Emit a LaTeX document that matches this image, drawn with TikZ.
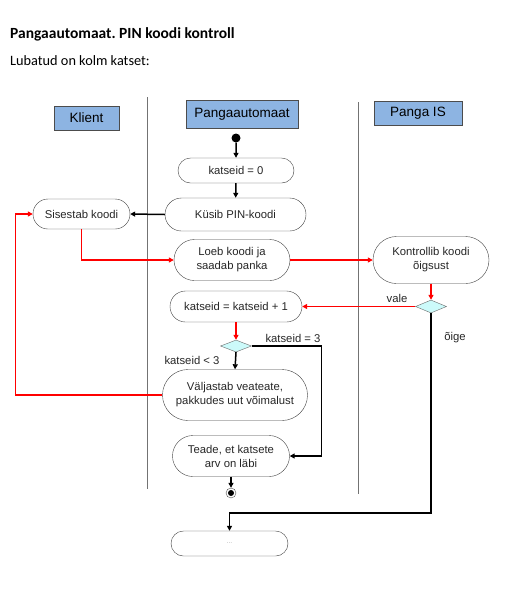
\documentclass[tikz,border=0pt]{standalone}
\usepackage{fontspec}
\setmainfont{Liberation Sans}
\newfontfamily\titlefont{Carlito}
\usetikzlibrary{shapes.misc,shapes.geometric,arrows.meta}

\definecolor{laneblue}{RGB}{141,180,226}
\definecolor{decfill}{RGB}{204,250,250}
\definecolor{flowred}{RGB}{255,0,0}

\tikzset{
  lanehead/.style={draw=black!70, fill=laneblue, inner sep=0pt, font=\fontsize{13.5}{15}\selectfont},
  activity/.style={draw=black!75, rounded rectangle, inner sep=0pt, align=center,
    text=black!85, font=\fontsize{11.3}{14}\selectfont},
  decision/.style={draw=black!60, fill=decfill, diamond, inner sep=0pt, aspect=2.4},
  blackflow/.style={draw=black, line width=1.5pt, -{Triangle[length=5pt,width=5pt]}},
  redflow/.style={draw=flowred, line width=1.5pt, -{Triangle[length=5pt,width=5pt]}},
  laneline/.style={draw=black!55, line width=0.6pt},
  guard/.style={inner sep=0pt, text=black!85, font=\fontsize{11.3}{14}\selectfont}
}

\begin{document}
\begin{tikzpicture}[x=1pt,y=-1pt]
\useasboundingbox (0,0) rectangle (527,590);

% heading text
\node[anchor=base west, inner sep=0pt, font=\titlefont\bfseries\fontsize{15.5}{18}\selectfont] (title) at (10,38) {Pangaautomaat.\ PIN koodi kontroll};
\node[anchor=base west, inner sep=0pt, font=\titlefont\fontsize{14.3}{16}\selectfont] (subtitle) at (10,65) {Lubatud on kolm katset:};

% swimlanes
\draw[laneline] (147.5,97) -- (147.5,489);
\draw[laneline] (358,102) -- (358,494);
\node[lanehead, minimum width=65pt, minimum height=24pt] (klient) at (86.5,118) {Klient};
\node[lanehead, minimum width=112pt, minimum height=28pt] (automaat) at (242,114) {Pangaautomaat};
\node[lanehead, minimum width=88pt, minimum height=24pt] (pangais) at (418,113) {Panga IS};

% activities
\node[circle, fill=black, inner sep=0pt, minimum size=9pt] (start) at (236,138) {};
\node[activity, minimum width=116pt, minimum height=25pt] (nulli) at (236,170.5) {katseid = 0};
\node[activity, minimum width=141pt, minimum height=33pt] (kysib) at (235.5,214.5) {Küsib PIN-koodi};
\node[activity, minimum width=97pt, minimum height=30pt] (sisestab) at (81.5,214) {Sisestab koodi};
\node[activity, minimum width=116pt, minimum height=41pt] (loeb) at (232,260) {Loeb koodi ja\\saadab panka};
\node[activity, minimum width=116pt, minimum height=47pt] (kontroll) at (431,260) {Kontrollib koodi\\õigsust};
\node[decision, minimum width=31pt, minimum height=13pt] (oige) at (431,306.5) {};
\node[activity, minimum width=132pt, minimum height=31pt] (lisa) at (236,306.5) {katseid = katseid + 1};
\node[decision, minimum width=31pt, minimum height=12pt] (mitu) at (236,346) {};
\node[activity, minimum width=145pt, minimum height=51pt] (viga) at (235,395) {Väljastab veateate,\\pakkudes uut võimalust};
\node[activity, minimum width=117pt, minimum height=41pt] (teade) at (231,456) {Teade, et katsete\\arv on läbi};
\node[circle, draw=black!70, fill=white, inner sep=0pt, minimum size=10pt] (lopp) at (231,493) {};
\node[circle, fill=black, inner sep=0pt, minimum size=6pt] at (lopp) {};
\node[activity, minimum width=117pt, minimum height=25pt, text=black!30, font=\fontsize{7}{8}\selectfont] (edasi) at (229.5,543.5) {...};

% flows
\draw[blackflow] (start) -- (nulli);
\draw[blackflow] (nulli) -- (kysib);
\draw[blackflow] (kysib.west) -- (sisestab.east);
\draw[redflow] (sisestab.south) |- (loeb.west);
\draw[redflow] (loeb.east) -- (kontroll.west);
\draw[redflow] (kontroll.south) -- (oige.north);
\draw[redflow] (oige.west) -- (lisa.east);
\node[guard, anchor=south] (vale) at (397,303) {vale};
\node[guard] (oigetxt) at (455,338) {õige};
\draw[redflow] (lisa.south) -- (mitu.north);
\draw[blackflow] (mitu.south) -- (viga.north);
\draw[blackflow] (mitu.east) -| ([xshift=32pt]teade.east) -- (teade.east);
\node[guard] (kolm) at (293,338) {katseid = 3};
\node[guard] (alla) at (192,360) {katseid < 3};
\draw[redflow] (viga.west) -- ++(-147,0) |- (sisestab.west);
\draw[blackflow] (teade.south) -- (lopp.north);
\draw[blackflow] (oige.south) -- ++(0,200) -| (edasi.north);
\end{tikzpicture}
\end{document}
